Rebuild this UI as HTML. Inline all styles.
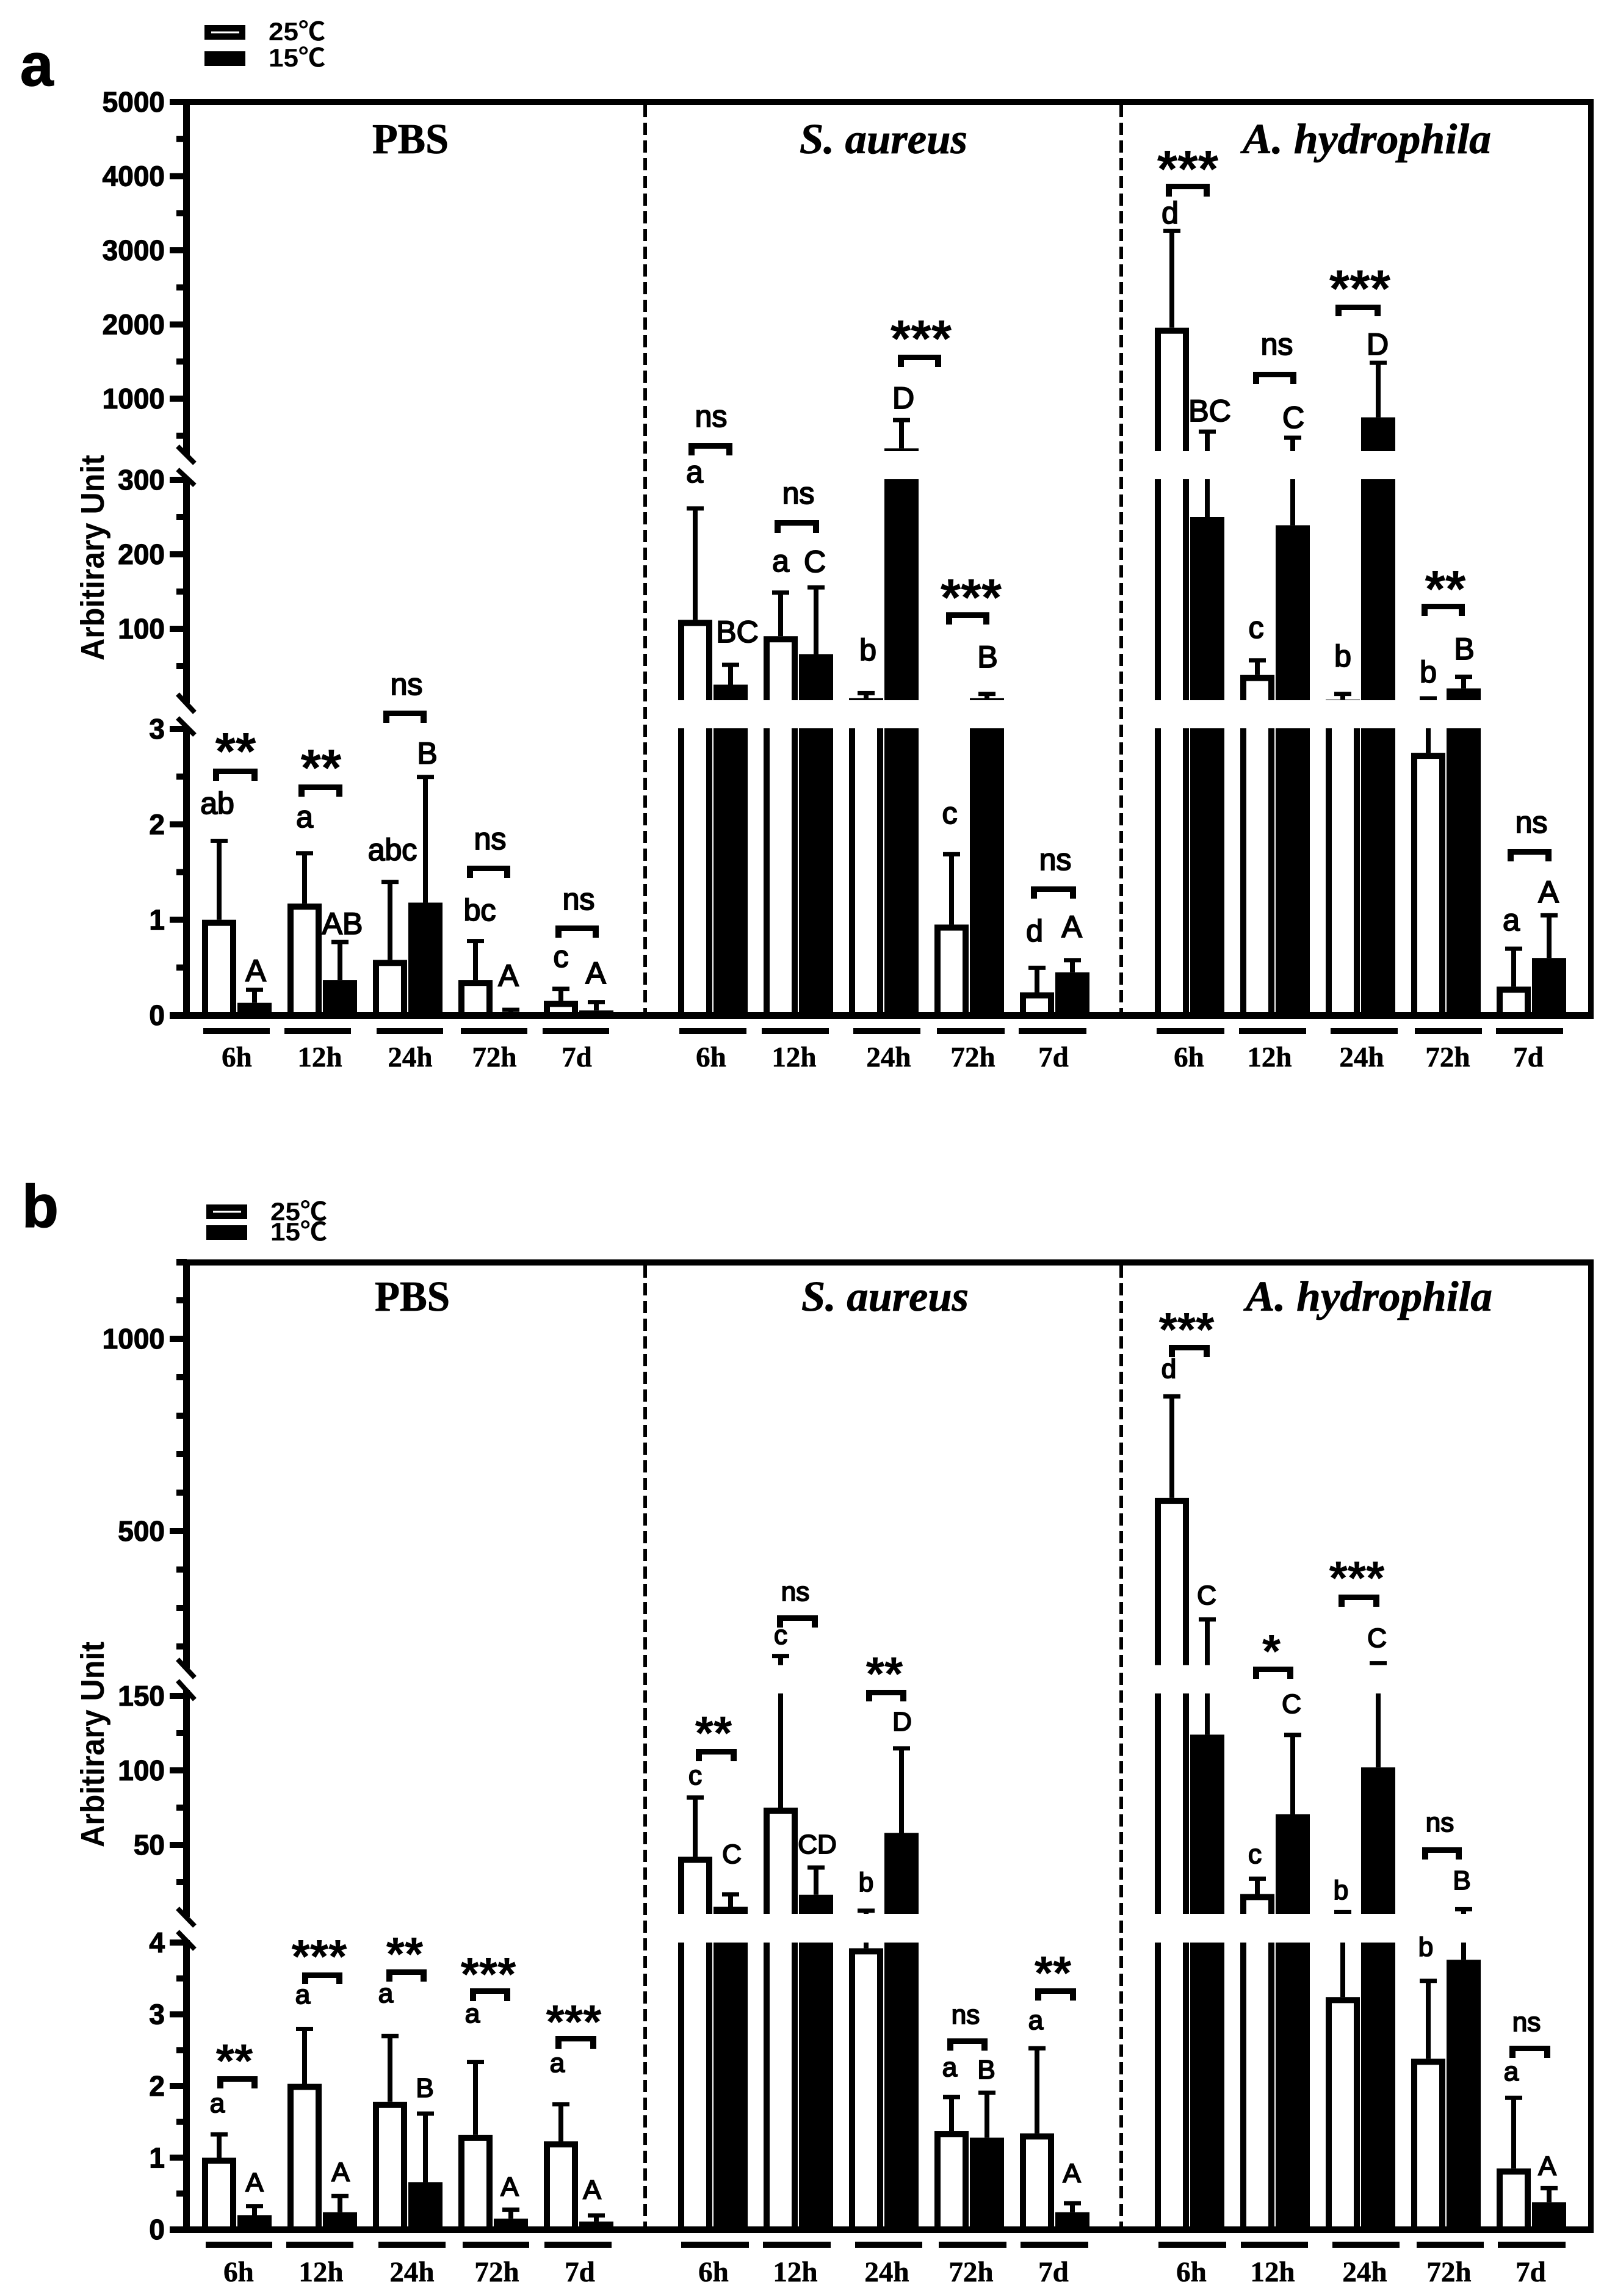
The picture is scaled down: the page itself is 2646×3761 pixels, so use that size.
<!DOCTYPE html>
<html lang="en">
<head>
<meta charset="utf-8">
<title>Arbitrary unit bar charts</title>
<style>
html,body{margin:0;padding:0;background:#fff}
svg{display:block}
text{fill:#000}
.sans{font-family:"Liberation Sans","Noto Sans CJK SC",sans-serif}
.serif{font-family:"Liberation Serif",serif}
</style>
</head>
<body>
<svg id="figure" xmlns="http://www.w3.org/2000/svg" width="2646" height="3761" viewBox="0 0 2646 3761">
<rect width="2646" height="3761" fill="#fff"/>
</svg>
<script>
// ---------- shared categories ----------
const timepoints = ['6h', '12h', '24h', '72h', '7d'];
const treatments = ['PBS', 'S. aureus', 'A. hydrophila'];
const seriesNames = ['25℃', '15℃'];

// ---------- panel a values (bar height and upper error limit) ----------
const aPbs25 = [1.0, 1.17, 0.58, 0.37, 0.15];
const aPbs25Upper = [1.83, 1.7, 1.4, 0.78, 0.28];
const aPbs15 = [0.13, 0.37, 1.18, 0.02, 0.05];
const aPbs15Upper = [0.27, 0.77, 2.5, 0.06, 0.14];
const aSa25 = [112, 90, 7, 0.95, 0.24];
const aSa25Upper = [262, 149, 14, 1.69, 0.5];
const aSa15 = [25, 66, 330, 7, 0.45];
const aSa15Upper = [52, 156, 715, 13, 0.58];
const aAh25 = [1957, 38, 5, 2.75, 0.3];
const aAh25Upper = [3265, 58, 13, 7, 0.7];
const aAh15 = [250, 239, 748, 20, 0.6];
const aAh15Upper = [559, 477, 1488, 36, 1.05];

// ---------- panel b values ----------
const bPbs25 = [1.0, 2.03, 1.78, 1.32, 1.23];
const bPbs25Upper = [1.33, 2.8, 2.7, 2.34, 1.75];
const bPbs15 = [0.2, 0.24, 0.66, 0.15, 0.11];
const bPbs15Upper = [0.33, 0.47, 1.62, 0.28, 0.2];
const bSa25 = [42, 75, 3.92, 1.37, 1.34];
const bSa25Upper = [82, 176, 6, 1.85, 2.53];
const bSa15 = [8.4, 16.5, 58, 1.28, 0.24];
const bSa15Upper = [17, 35, 115, 1.91, 0.37];
const bAh25 = [586, 17, 3.24, 2.38, 0.85];
const bAh25Upper = [851, 27.5, 5, 3.47, 1.84];
const bAh15 = [124, 70.5, 102, 3.76, 0.38];
const bAh15Upper = [271, 124, 157, 7, 0.58];

// ---------- tick values ----------
const aMajorUpper = [5000, 4000, 3000, 2000, 1000];
const aMinorUpper = [4500, 3500, 2500, 1500, 500];
const aMajorMid = [300, 200, 100];
const aMinorMid = [250, 150, 50];
const aMajorLower = [3, 2, 1, 0];
const aMinorLower = [2.5, 1.5, 0.5];
const bMajorUpper = [1000, 500];
const bMinorUpper = [1200, 1100, 900, 800, 700, 600, 400, 300, 200];
const bMajorMid = [150, 100, 50];
const bMinorMid = [125, 75, 25];
const bMajorLower = [4, 3, 2, 1, 0];
const bMinorLower = [3.5, 2.5, 1.5, 0.5];

const SVGNS = 'http://www.w3.org/2000/svg';
const root = document.getElementById('figure');

function add(parent, tag, attrs, text) {
  const el = document.createElementNS(SVGNS, tag);
  for (const k in attrs) el.setAttribute(k, attrs[k]);
  if (text !== undefined) el.textContent = text;
  parent.appendChild(el);
  return el;
}
function linear(v1, y1, v2, y2) {
  return v => y1 + (v - v1) * (y2 - y1) / (v2 - v1);
}
function makePanel(id, s) {
  const g = add(root, 'g', {});
  
  
  const upper = linear(s.u[0], s.u[1], s.u[2], s.u[3]);
  const mid = linear(s.m[0], s.m[1], s.m[2], s.m[3]);
  const lower = linear(s.l[0], s.l[1], s.l[2], s.l[3]);
  const yOf = v => v >= s.upperMin ? upper(v) : (v >= s.midMin ? mid(v) : lower(v));
  const defs = add(g, 'defs', {});
  const clip = add(defs, 'clipPath', { id: 'clip-' + id });
  s.clips.forEach(c => add(clip, 'rect', { x: 0, y: c[0], width: 2646, height: c[1] - c[0] }));
  return { id, g, upper, mid, lower, yOf, s };
}
function tickMajor(p, y, label) {
  const t = add(p.g, 'rect', { x: 278, y: y - 5, width: 28, height: 10, fill: '#000' });
  
  
  const l = add(p.g, 'text', { x: 270, y: y + 16, 'text-anchor': 'end', 'font-size': 46, 'font-weight': 'bold', class: 'sans', stroke: '#000', 'stroke-width': 1.2 }, label);
  
  
}
function tickMinor(p, y) {
  const t = add(p.g, 'rect', { x: 289, y: y - 5, width: 17, height: 10, fill: '#000' });
  
  
}
function drawAxes(p, mu, nu, mm, nm, ml, nl, top, base, leftEnd) {
  const s = p.s;
  s.axis.forEach(a => {
    const r = add(p.g, 'rect', { x: 300, y: a[0], width: 11, height: a[1] - a[0], fill: '#000' });
    
    
  });
  s.breaks.forEach(b => {
    const l = add(p.g, 'line', { x1: 291, y1: b[0], x2: 319, y2: b[1], stroke: '#000', 'stroke-width': 8 });
    
    
  });
  mu.forEach(v => tickMajor(p, p.upper(v), v));
  nu.forEach(v => tickMinor(p, p.upper(v)));
  mm.forEach(v => tickMajor(p, p.mid(v), v));
  nm.forEach(v => tickMinor(p, p.mid(v)));
  ml.forEach(v => tickMajor(p, p.lower(v), v));
  nl.forEach(v => tickMinor(p, p.lower(v)));
  const t = add(p.g, 'rect', { x: leftEnd, y: top - 5, width: 2611 - leftEnd, height: 10, fill: '#000' });
  
  
  const r = add(p.g, 'rect', { x: 2602, y: top - 5, width: 9, height: base - top + 10, fill: '#000' });
  
  
  [1057, 1837].forEach(x => {
    const d = add(p.g, 'line', { x1: x, y1: top + 5, x2: x, y2: base - 5, stroke: '#000', 'stroke-width': 6, 'stroke-dasharray': '20 9' });
    
    
  });
}
function drawBaseline(p, base) {
  const b = add(p.g, 'rect', { x: 278, y: base - 5, width: 2333, height: 11, fill: '#000' });
  
  
}

const groupStart = [331, 1111, 1892];
function barX(group, time, series) {
  return groupStart[group] + time * 140 + series * 58;
}
function drawSeries(p, group, series, values, uppers) {
  const baseY = p.yOf(0);
  values.forEach((v, i) => {
    const x = barX(group, i, series);
    const top = p.yOf(v);
    const errTop = p.yOf(uppers[i]);
    const cell = add(p.g, 'g', { 'clip-path': 'url(#clip-' + p.id + ')' });
    
    
    const stem = add(cell, 'rect', { x: x + 24, y: errTop, width: 8, height: Math.max(0, top - errTop), fill: '#000' });
    
    
    const cap = add(cell, 'rect', { x: x + 14, y: errTop - 3, width: 28, height: 7, fill: '#000' });
    
    
    const bar = add(cell, 'rect', { x: x, y: top, width: 56, height: Math.max(0, baseY - top), fill: '#000' });
    
    
    if (series === 0 && baseY - top > 10) {
      const inner = add(cell, 'rect', { x: x + 10, y: top + 10, width: 36, height: baseY - top - 10, fill: '#fff' });
      
      
    }
  });
}
function legend(p, x, y1, y2, h, tx, b1, b2) {
  const a = add(p.g, 'rect', { x: x, y: y1, width: 67, height: h, fill: '#000' });
  
  
  const i = add(p.g, 'rect', { x: x + 11, y: y1 + h / 2 - 1.5, width: 46, height: 3, fill: '#fff' });
  
  
  const b = add(p.g, 'rect', { x: x, y: y2, width: 67, height: h, fill: '#000' });
  
  
  const t1 = add(p.g, 'text', { x: tx, y: b1, 'font-size': 42, 'font-weight': 'bold', class: 'sans', textLength: 93, lengthAdjust: 'spacingAndGlyphs' }, seriesNames[0]);
  
  
  const t2 = add(p.g, 'text', { x: tx, y: b2, 'font-size': 42, 'font-weight': 'bold', class: 'sans', textLength: 93, lengthAdjust: 'spacingAndGlyphs' }, seriesNames[1]);
  
  
}
function panelLetter(p, ch, x, y) {
  const t = add(p.g, 'text', { x: x, y: y, 'font-size': 98, 'font-weight': 'bold', class: 'sans', stroke: '#000', 'stroke-width': 1.5 }, ch);
  
  
}
function title(p, idx, x, y, w, italic) {
  const attrs = { x: x, y: y, 'font-size': 70, 'font-weight': 'bold', class: 'serif', textLength: w, lengthAdjust: 'spacingAndGlyphs', stroke: '#000', 'stroke-width': 0.8 };
  if (italic) attrs['font-style'] = 'italic';
  const t = add(p.g, 'text', attrs, treatments[idx]);
  
  
}
function yTitle(p, cy) {
  const t = add(p.g, 'text', { transform: 'translate(170 ' + cy + ') rotate(-90)', 'text-anchor': 'middle', 'font-size': 54, 'font-weight': 'bold', class: 'sans', textLength: 337, lengthAdjust: 'spacingAndGlyphs' }, 'Arbitirary Unit');
  
  
}
function timeLabel(p, time, x1, x2, cx, uy, by) {
  const r = add(p.g, 'rect', { x: x1, y: uy, width: x2 - x1, height: 10, fill: '#000' });
  
  
  const t = add(p.g, 'text', { x: cx, y: by, 'text-anchor': 'middle', 'font-size': 47, 'font-weight': 'bold', class: 'serif', stroke: '#000', 'stroke-width': 0.6 }, timepoints[time]);
  
  
}
function bracket(p, x1, x2, top, bot) {
  const d = 'M' + x1 + ' ' + bot + 'V' + top + 'H' + x2 + 'V' + bot + 'H' + (x2 - 10) + 'V' + (top + 9) + 'H' + (x1 + 10) + 'V' + bot + 'Z';
  const b = add(p.g, 'path', { d: d, fill: '#000' });
  
  
}
function stars(p, txt, cx, cy, fs) {
  const t = add(p.g, 'text', { x: cx, y: cy + 0.47 * fs, 'text-anchor': 'middle', 'font-size': fs, 'font-weight': 'bold', class: 'sans' }, txt);
  
  
}
function note(p, txt, cx, by, fs) {
  const t = add(p.g, 'text', { x: cx, y: by, 'text-anchor': 'middle', 'font-size': fs, class: 'sans', stroke: '#000', 'stroke-width': 2 }, txt);
  
  
}

// ================= PANEL A =================
const pa = makePanel('a', {
  u: [5000, 167, 1000, 653], m: [300, 786, 100, 1030], l: [3, 1194, 0, 1663],
  upperMin: 300, midMin: 3,
  clips: [[0, 739], [785, 1147], [1193, 1700]],
  axis: [[167, 745], [782, 1152], [1190, 1663]],
  breaks: [[731, 759], [769, 795], [1137, 1167], [1176, 1204]]
});
drawAxes(pa, aMajorUpper, aMinorUpper, aMajorMid, aMinorMid, aMajorLower, aMinorLower, 167, 1663, 278);
drawSeries(pa, 0, 0, aPbs25, aPbs25Upper);
drawSeries(pa, 0, 1, aPbs15, aPbs15Upper);
drawSeries(pa, 1, 0, aSa25, aSa25Upper);
drawSeries(pa, 1, 1, aSa15, aSa15Upper);
drawSeries(pa, 2, 0, aAh25, aAh25Upper);
drawSeries(pa, 2, 1, aAh15, aAh15Upper);
drawBaseline(pa, 1663);
legend(pa, 335, 41, 84, 24, 440, 66, 109);
panelLetter(pa, 'a', 33, 140);
title(pa, 0, 610, 251, 125, false);
title(pa, 1, 1310, 251, 275, true);
title(pa, 2, 2036, 251, 407, true);
yTitle(pa, 913.5);
[
  [0, 333, 442, 388], [1, 466, 575, 524], [2, 617, 726, 672], [3, 755, 864, 810], [4, 889, 998, 945],
  [0, 1113, 1223, 1165], [1, 1248, 1358, 1301], [2, 1398, 1508, 1456], [3, 1535, 1646, 1594], [4, 1669, 1780, 1726],
  [0, 1895, 2006, 1948], [1, 2030, 2140, 2080], [2, 2180, 2290, 2231], [3, 2318, 2428, 2372], [4, 2451, 2561, 2504]
].forEach(r => timeLabel(pa, r[0], r[1], r[2], r[3], 1684, 1747));

const FA = 50, SA = 86;
bracket(pa, 349, 422, 1259, 1279); stars(pa, '**', 386, 1220, SA); note(pa, 'ab', 356, 1333, FA); note(pa, 'A', 419, 1607, FA);
bracket(pa, 489, 561, 1285, 1305); stars(pa, '**', 526, 1247, SA); note(pa, 'a', 499, 1355, FA); note(pa, 'AB', 561, 1530, FA);
bracket(pa, 628, 699, 1164, 1184); note(pa, 'ns', 666, 1138, FA); note(pa, 'abc', 643, 1409, FA); note(pa, 'B', 700, 1251, FA);
bracket(pa, 765, 836, 1418, 1438); note(pa, 'ns', 803, 1391, FA); note(pa, 'bc', 786, 1508, FA); note(pa, 'A', 833, 1615, FA);
bracket(pa, 910, 981, 1516, 1536); note(pa, 'ns', 948, 1490, FA); note(pa, 'c', 919, 1584, FA); note(pa, 'A', 976, 1611, FA);

bracket(pa, 1128, 1200, 726, 746); note(pa, 'ns', 1165, 699, FA); note(pa, 'a', 1138, 790, FA); note(pa, 'BC', 1208, 1052, FA);
bracket(pa, 1269, 1342, 852, 873); note(pa, 'ns', 1308, 825, FA); note(pa, 'a', 1279, 936, FA); note(pa, 'C', 1335, 937, FA);
bracket(pa, 1471, 1542, 581, 601); stars(pa, '***', 1509, 544, SA); note(pa, 'b', 1422, 1082, FA); note(pa, 'D', 1480, 669, FA);
bracket(pa, 1550, 1621, 1003, 1023); stars(pa, '***', 1591, 968, SA); note(pa, 'c', 1556, 1349, FA); note(pa, 'B', 1618, 1093, FA);
bracket(pa, 1689, 1763, 1452, 1472); note(pa, 'ns', 1729, 1425, FA); note(pa, 'd', 1695, 1542, FA); note(pa, 'A', 1756, 1535, FA);

bracket(pa, 1910, 1982, 301, 322); stars(pa, '***', 1946, 266, SA); note(pa, 'd', 1917, 366, FA); note(pa, 'BC', 1982, 690, FA);
bracket(pa, 2053, 2124, 609, 629); note(pa, 'ns', 2092, 581, FA); note(pa, 'C', 2119, 701, FA); note(pa, 'c', 2058, 1045, FA);
bracket(pa, 2188, 2262, 499, 518); stars(pa, '***', 2228, 462, SA); note(pa, 'D', 2257, 581, FA); note(pa, 'b', 2200, 1092, FA);
bracket(pa, 2329, 2400, 989, 1009); stars(pa, '**', 2368, 954, SA); note(pa, 'b', 2340, 1118, FA); note(pa, 'B', 2399, 1080, FA);
bracket(pa, 2470, 2542, 1391, 1411); note(pa, 'ns', 2509, 1364, FA); note(pa, 'a', 2476, 1524, FA); note(pa, 'A', 2537, 1478, FA);

// ================= PANEL B =================
const pb = makePanel('b', {
  u: [1000, 2193, 500, 2508], m: [150, 2778, 50, 3022], l: [4, 3182, 0, 3652],
  upperMin: 150, midMin: 4,
  clips: [[0, 2727.5], [2774, 3135], [3182, 3700]],
  axis: [[2068, 2733], [2768, 3140], [3178, 3652]],
  breaks: [[2718, 2748], [2753, 2784], [3126, 3155], [3164, 3193]]
});
drawAxes(pb, bMajorUpper, bMinorUpper, bMajorMid, bMinorMid, bMajorLower, bMinorLower, 2068, 3652, 289);
drawSeries(pb, 0, 0, bPbs25, bPbs25Upper);
drawSeries(pb, 0, 1, bPbs15, bPbs15Upper);
drawSeries(pb, 1, 0, bSa25, bSa25Upper);
drawSeries(pb, 1, 1, bSa15, bSa15Upper);
drawSeries(pb, 2, 0, bAh25, bAh25Upper);
drawSeries(pb, 2, 1, bAh15, bAh15Upper);
drawBaseline(pb, 3652);
legend(pb, 338, 1973, 2007, 24, 443, 1999, 2032);
panelLetter(pb, 'b', 36, 2010);
title(pb, 0, 614, 2147, 123, false);
title(pb, 1, 1313, 2147, 274, true);
title(pb, 2, 2041, 2147, 404, true);
yTitle(pb, 2857.5);
[
  [0, 337, 446, 391], [1, 469, 579, 526], [2, 620, 730, 675], [3, 758, 867, 814], [4, 892, 1002, 950],
  [0, 1116, 1227, 1169], [1, 1250, 1361, 1303], [2, 1401, 1511, 1453], [3, 1538, 1649, 1591], [4, 1672, 1783, 1726],
  [0, 1898, 2009, 1952], [1, 2033, 2143, 2085], [2, 2183, 2293, 2236], [3, 2321, 2431, 2374], [4, 2454, 2565, 2508]
].forEach(r => timeLabel(pb, r[0], r[1], r[2], r[3], 3672, 3737));

const FB = 44, SB = 78;
bracket(pb, 356, 422, 3401, 3421); stars(pb, '**', 384, 3366, SB); note(pb, 'a', 356, 3460, FB); note(pb, 'A', 417, 3590, FB);
bracket(pb, 495, 561, 3231, 3250); stars(pb, '***', 523, 3195, SB); note(pb, 'a', 496, 3282, FB); note(pb, 'A', 558, 3573, FB);
bracket(pb, 633, 699, 3226, 3246); stars(pb, '**', 663, 3191, SB); note(pb, 'a', 632, 3280, FB); note(pb, 'B', 696, 3435, FB);
bracket(pb, 770, 836, 3257, 3278); stars(pb, '***', 800, 3224, SB); note(pb, 'a', 774, 3313, FB); note(pb, 'A', 835, 3597, FB);
bracket(pb, 910, 977, 3335, 3356); stars(pb, '***', 940, 3302, SB); note(pb, 'a', 913, 3394, FB); note(pb, 'A', 970, 3602, FB);

bracket(pb, 1140, 1207, 2865, 2885); stars(pb, '**', 1169, 2829, SB); note(pb, 'c', 1139, 2923, FB); note(pb, 'C', 1199, 3052, FB);
bracket(pb, 1273, 1340, 2646, 2666); note(pb, 'ns', 1303, 2622, FB); note(pb, 'c', 1279, 2693, FB); note(pb, 'CD', 1339, 3036, FB);
bracket(pb, 1419, 1485, 2768, 2787); stars(pb, '**', 1449, 2732, SB); note(pb, 'b', 1419, 3098, FB); note(pb, 'D', 1478, 2835, FB);
bracket(pb, 1552, 1618, 3339, 3359); note(pb, 'ns', 1582, 3315, FB); note(pb, 'a', 1556, 3401, FB); note(pb, 'B', 1616, 3405, FB);
bracket(pb, 1696, 1763, 3257, 3277); stars(pb, '**', 1725, 3222, SB); note(pb, 'a', 1697, 3324, FB); note(pb, 'A', 1756, 3575, FB);

bracket(pb, 1915, 1982, 2203, 2223); stars(pb, '***', 1944, 2168, SB); note(pb, 'd', 1915, 2257, FB); note(pb, 'C', 1977, 2628, FB);
bracket(pb, 2053, 2119, 2730, 2750); stars(pb, '*', 2083, 2695, SB); note(pb, 'C', 2116, 2806, FB); note(pb, 'c', 2056, 3052, FB);
bracket(pb, 2193, 2260, 2612, 2632); stars(pb, '***', 2223, 2575, SB); note(pb, 'C', 2256, 2698, FB); note(pb, 'b', 2197, 3111, FB);
bracket(pb, 2330, 2395, 3026, 3046); note(pb, 'ns', 2359, 3000, FB); note(pb, 'B', 2395, 3095, FB); note(pb, 'b', 2336, 3204, FB);
bracket(pb, 2473, 2540, 3351, 3371); note(pb, 'ns', 2501, 3327, FB); note(pb, 'a', 2476, 3408, FB); note(pb, 'A', 2535, 3563, FB);
</script>
</body>
</html>
